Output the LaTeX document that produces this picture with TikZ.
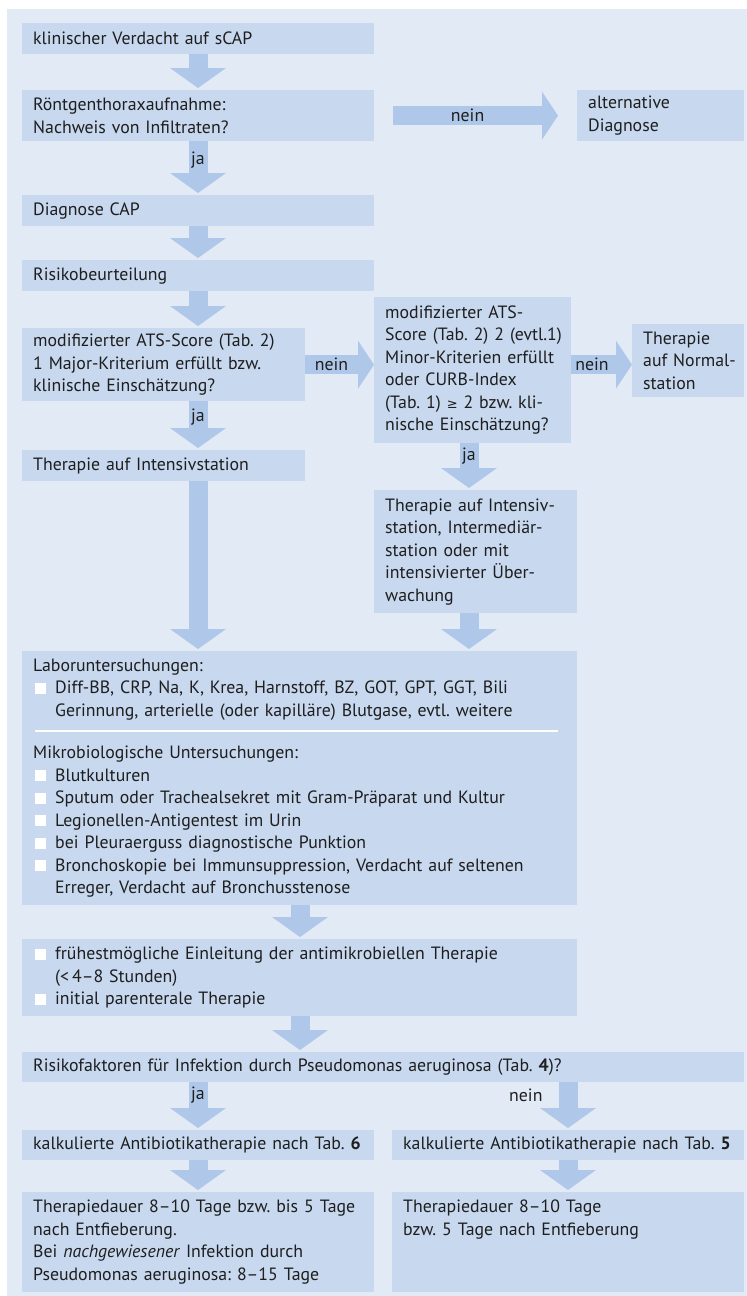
\documentclass[tikz,border=0pt]{standalone}
\usepackage{fontspec}
\setmainfont{PT Sans}
\newfontfamily\symfont{DejaVu Sans}
\usepackage{xcolor}
\usetikzlibrary{arrows.meta}
\definecolor{bgblue}{HTML}{E2EAF5}
\definecolor{boxblue}{HTML}{C7D8EF}
\definecolor{arrowblue}{HTML}{AFC7E8}
\definecolor{txt}{HTML}{1E1E1E}
\newcommand\listsq{\makebox[22pt][l]{\hspace{2pt}\textcolor{white}{\rule{11pt}{11pt}}}}
\newcommand\listind{\hspace*{22pt}}
\frenchspacing

\begin{document}
\begin{tikzpicture}[x=1pt,y=-1pt,
  font=\fontsize{17.8}{22.5}\selectfont,
  box/.style={fill=boxblue,anchor=north west,inner xsep=11pt,inner ysep=0pt,align=left,text=txt},
  flowv/.style={draw=arrowblue,line width=19pt,shorten >=2pt,-{Triangle[width=56pt,length=20pt,line width=0pt]}},
  flowh/.style={draw=arrowblue,line width=19pt,-{Triangle[width=48pt,length=16pt,line width=0pt]}},
  lab/.style={text=txt,inner sep=0pt},
  sep/.style={draw=white,line width=2.5pt}]
\useasboundingbox (0,0) rectangle (747,1296);
\fill[bgblue] (7,9) rectangle (747,1296);
\coordinate (colA) at (198,0);
\coordinate (colB) at (469,0);
\coordinate (colC) at (300,0);
\coordinate (colD) at (568,0);

\node[box,text width=330pt,minimum height=31pt] (verdacht) at (22,23) {klinischer Verdacht auf sCAP};
\node[box,text width=330pt,minimum height=51pt] (roentgen) at (22,90) {Röntgenthoraxaufnahme:\\Nachweis von Infiltraten?};
\node[box,text width=145pt,minimum height=51pt] (alt) at (577,90) {alternative\\Diagnose};
\node[box,text width=330pt,minimum height=31pt] (diagnose) at (22,195) {Diagnose CAP};
\node[box,text width=330pt,minimum height=31pt] (risiko) at (22,260) {Risikobeurteilung};
\node[box,text width=261pt,minimum height=73pt] (atsmajor) at (22,328) {modifizierter ATS-Score (Tab. 2)\\1 Major-Kriterium erfüllt bzw.\\klinische Einschätzung?};
\node[box,text width=175pt,minimum height=146pt] (atsminor) at (374,297) {modifizierter ATS-\\\mbox{Score (Tab. 2) 2 (evtl.1)}\\Minor-Kriterien erfüllt\\oder CURB-Index\\(Tab. 1) {\symfont\fontsize{13}{22.5}\selectfont ≥} 2 bzw. kli-\\nische Einschätzung?};
\node[box,text width=90pt,minimum height=73pt] (normal) at (632,324) {Therapie\\\mbox{auf Normal-}\\station};
\node[box,text width=261pt,minimum height=31pt] (intensiv) at (22,450) {Therapie auf Intensivstation};
\node[box,text width=181pt,minimum height=123pt] (intermed) at (374,490) {Therapie auf Intensiv-\\station, Intermediär-\\station oder mit\\intensivierter Über-\\wachung};
\node[box,text width=533pt,minimum height=254pt] (labor) at (22,651) {Laboruntersuchungen:\\
  \listsq Diff-BB, CRP, Na, K, Krea, Harnstoff, BZ, GOT, GPT, GGT, Bili\\
  \listind Gerinnung, arterielle (oder kapilläre) Blutgase, evtl. weitere\\[20pt]
  Mikrobiologische Untersuchungen:\\
  \listsq Blutkulturen\\
  \listsq Sputum oder Trachealsekret mit Gram-Präparat und Kultur\\
  \listsq Legionellen-Antigentest im Urin\\
  \listsq bei Pleuraerguss diagnostische Punktion\\
  \listsq Bronchoskopie bei Immunsuppression, Verdacht auf seltenen\\
  \listind Erreger, Verdacht auf Bronchusstenose};
\node[box,text width=533pt,minimum height=77pt] (frueh) at (22,939) {\listsq frühestmögliche Einleitung der antimikrobiellen Therapie\\
  \listind (<\,4–8 Stunden)\\
  \listsq initial parenterale Therapie};
\node[box,text width=700pt,minimum height=30pt] (pseudo) at (22,1052) {Risikofaktoren für Infektion durch Pseudomonas aeruginosa (Tab. \textbf{4})?};
\node[box,text width=330pt,minimum height=30pt] (kalkL) at (22,1130) {\mbox{kalkulierte Antibiotikatherapie nach Tab. \textbf{6}}};
\node[box,text width=330pt,minimum height=30pt] (kalkR) at (392,1130) {\mbox{kalkulierte Antibiotikatherapie nach Tab. \textbf{5}}};
\node[box,text width=330pt,minimum height=100pt] (dauerL) at (22,1192) {Therapiedauer 8–10 Tage bzw. bis 5 Tage\\nach Entfieberung.\\Bei \textit{nachgewiesener} Infektion durch\\Pseudomonas aeruginosa: 8–15 Tage};
\node[box,text width=330pt,minimum height=100pt,text depth=71.5pt] (dauerR) at (392,1192) {Therapiedauer 8–10 Tage\\bzw. 5 Tage nach Entfieberung};
\draw[sep] ([xshift=13pt,yshift=-80pt]labor.north west) -- ([xshift=-19pt,yshift=-80pt]labor.north east);

\draw[flowv] (verdacht.south -| colA) -- (roentgen.north -| colA);
\draw[flowv] (roentgen.south -| colA) -- node[lab,pos=.35] {ja} (diagnose.north -| colA);
\draw[flowh,shorten <=19pt,shorten >=19pt] (roentgen.east) -- node[lab,pos=.46] {nein} (alt.west);
\draw[flowv] (diagnose.south -| colA) -- (risiko.north -| colA);
\draw[flowv] (risiko.south -| colA) -- (atsmajor.north -| colA);
\draw[flowh] (atsmajor.east) -- node[lab,pos=.38] {nein} (atsmajor.east -| atsminor.west);
\draw[flowh] (atsmajor.east -| atsminor.east) -- node[lab,pos=.34] {nein} (atsmajor.east -| normal.west);
\draw[flowv] (atsmajor.south -| colA) -- node[lab,pos=.33] {ja} (intensiv.north -| colA);
\draw[flowv] (atsminor.south -| colB) -- node[lab,pos=.28] {ja} (intermed.north -| colB);
\draw[flowv] (intensiv.south -| colA) -- (labor.north -| colA);
\draw[flowv] (intermed.south -| colB) -- (labor.north -| colB);
\draw[flowv] (labor.south -| colC) -- (frueh.north -| colC);
\draw[flowv] (frueh.south -| colC) -- (pseudo.north -| colC);
\draw[flowv] (pseudo.south -| colA) -- node[lab,pos=.27] {ja} (kalkL.north -| colA);
\draw[flowv] (pseudo.south -| colD) -- node[lab,pos=.27,left=16pt] {nein} (kalkR.north -| colD);
\draw[flowv] (kalkL.south -| colA) -- (dauerL.north -| colA);
\draw[flowv] (kalkR.south -| colD) -- (dauerR.north -| colD);
\end{tikzpicture}
\end{document}
